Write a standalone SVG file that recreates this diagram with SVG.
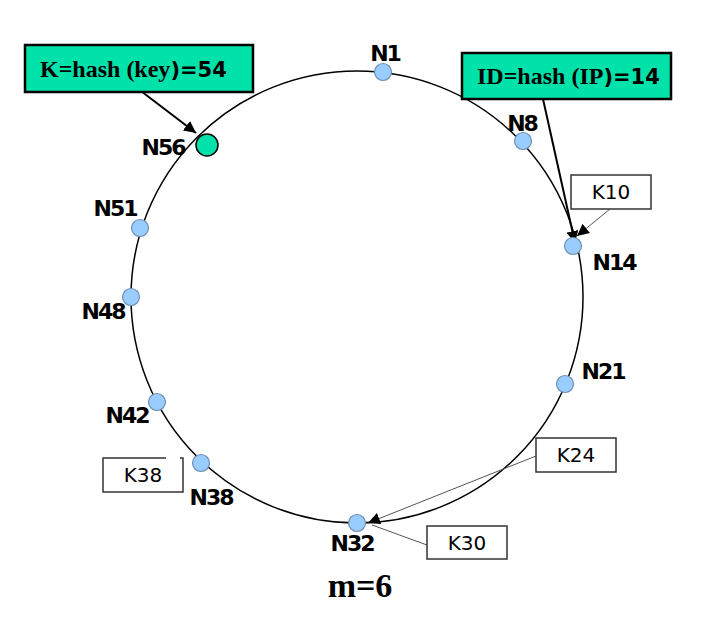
<svg xmlns="http://www.w3.org/2000/svg" width="704" height="634" viewBox="0 0 704 634">
<style>
.ring{fill:none;stroke:#000;stroke-width:1.5}
.node{fill:#99ccff;stroke:#6f8fb0;stroke-width:1.2}
.nlab{font-family:"DejaVu Sans",Verdana,sans-serif;font-weight:bold;font-size:22px;letter-spacing:-2px;text-anchor:middle;fill:#000}
.kbox{fill:#fff;stroke:#333;stroke-width:1.5}
.ktxt{font-family:"DejaVu Sans",Verdana,sans-serif;font-size:20px;text-anchor:middle;fill:#000}
.gbox{fill:#00e2aa;stroke:#000;stroke-width:2.5}
.tms{font-family:"Liberation Serif","Times New Roman",serif;font-weight:bold;font-size:24px}
.vb{font-family:"DejaVu Sans",Verdana,sans-serif;font-weight:bold;font-size:21px}
.thick{stroke:#000;stroke-width:2;fill:none}
.thin{stroke:#555;stroke-width:1;fill:none}
</style>
<defs>
<marker id="ah" viewBox="0 0 10 10" refX="10" refY="5" markerWidth="6" markerHeight="6" orient="auto" markerUnits="strokeWidth">
<path d="M0,0 L10,5 L0,10 z" fill="#000"/>
</marker>
<marker id="ahs" viewBox="0 0 10 10" refX="10" refY="5" markerWidth="12" markerHeight="12" orient="auto" markerUnits="strokeWidth">
<path d="M0,0 L10,5 L0,10 z" fill="#000"/>
</marker>
</defs>
<rect width="704" height="634" fill="#fff"/>
<circle class="ring" cx="357" cy="297" r="226"/>
<g id="connectors">
<line class="thick" x1="137" y1="88" x2="196" y2="133" marker-end="url(#ah)"/>
<line class="thick" x1="543" y1="99" x2="575" y2="243" marker-end="url(#ah)"/>
<line class="thin" x1="610" y1="209" x2="577" y2="236" marker-end="url(#ahs)"/>
<line class="thin" x1="536" y1="456" x2="368" y2="523" marker-end="url(#ahs)"/>
<line class="thin" x1="427" y1="545" x2="372" y2="525"/>
</g>
<g id="N1"><circle class="node" cx="383" cy="72" r="8.5"/><text class="nlab" x="385" y="61">N1</text></g>
<g id="N8"><circle class="node" cx="523" cy="141" r="8.5"/><text class="nlab" x="522" y="131">N8</text></g>
<g id="N14"><circle class="node" cx="573" cy="246" r="8.5"/><text class="nlab" x="614" y="270">N14</text></g>
<g id="N21"><circle class="node" cx="565" cy="384" r="8.5"/><text class="nlab" x="603" y="379">N21</text></g>
<g id="N32"><circle class="node" cx="357" cy="523" r="8.5"/><text class="nlab" x="352" y="551">N32</text></g>
<g id="N38"><circle class="node" cx="201" cy="463" r="8.5"/><text class="nlab" x="211" y="505">N38</text></g>
<g id="N42"><circle class="node" cx="157" cy="402" r="8.5"/><text class="nlab" x="127" y="423">N42</text></g>
<g id="N48"><circle class="node" cx="131" cy="297" r="8.5"/><text class="nlab" x="103" y="319">N48</text></g>
<g id="N51"><circle class="node" cx="140" cy="228" r="8.5"/><text class="nlab" x="115" y="216">N51</text></g>
<g id="N56"><circle cx="207" cy="145" r="11" fill="#00e2aa" stroke="#000" stroke-width="1.5"/><text class="nlab" x="163" y="155">N56</text></g>
<g id="keylabel"><rect class="gbox" x="25" y="45" width="228" height="47"/><text x="40" y="77"><tspan class="tms">K=hash (key</tspan><tspan class="vb">)=54</tspan></text></g>
<g id="idlabel"><rect class="gbox" x="462" y="53" width="209" height="46"/><text x="477" y="84"><tspan class="tms">ID=hash (IP</tspan><tspan class="vb">)=14</tspan></text></g>
<g id="K10"><rect class="kbox" x="571" y="175" width="80" height="34"/><text class="ktxt" x="611" y="199">K10</text></g>
<g id="K24"><rect class="kbox" x="536" y="438" width="80" height="34"/><text class="ktxt" x="576" y="462">K24</text></g>
<g id="K30"><rect class="kbox" x="427" y="526" width="80" height="33"/><text class="ktxt" x="467" y="550">K30</text></g>
<g id="K38"><rect class="kbox" x="103" y="458" width="80" height="34"/><line x1="166" y1="458" x2="180" y2="458" stroke="#fff" stroke-width="2"/><text class="ktxt" x="143" y="482">K38</text></g>
<text x="360" y="597" font-family="'Liberation Serif','Times New Roman',serif" font-weight="bold" font-size="34" text-anchor="middle">m=6</text>
</svg>
